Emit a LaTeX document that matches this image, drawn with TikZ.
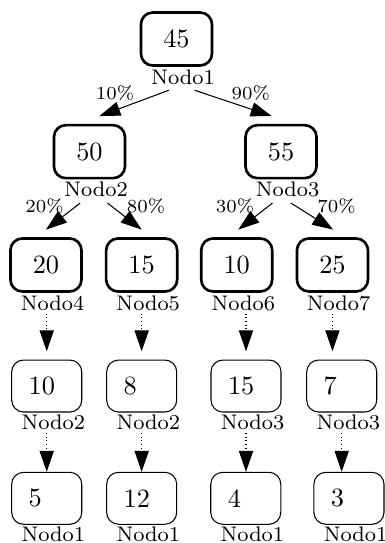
\documentclass[tikz,border=0pt]{standalone}
\usetikzlibrary{arrows.meta}

\begin{document}
\begin{tikzpicture}[
  upper/.style={draw,rounded corners=4.5pt,line width=1pt,
    minimum width=0.947cm,minimum height=0.707cm,inner sep=0pt,align=center},
  lower/.style={draw,rounded corners=4.5pt,line width=0.4pt,
    text width=0.48cm,inner xsep=0.227cm,minimum height=0.693cm,
    inner ysep=0pt,align=left},
  tag/.style={font=\footnotesize,inner sep=1pt},
  pct/.style={font=\scriptsize,inner sep=1pt},
  flow/.style={-{Triangle[length=2.8mm,width=1.9mm]},line width=0.4pt},
  trail/.style={flow,densely dotted}
]
\useasboundingbox (0,0) rectangle (5.133,-7.24);
% first tree
\node[upper] (n1) at (2.353,-0.520) {45};
\node[upper] (n2) at (1.193,-2.022) {50};
\node[upper] (n3) at (3.747,-2.022) {55};
\node[upper] (n4) at (0.613,-3.533) {20};
\node[upper] (n5) at (1.889,-3.533) {15};
\node[upper] (n6) at (3.156,-3.533) {10};
\node[upper] (n7) at (4.433,-3.533) {25};
\node[tag] (t1) at ([shift={(0.087,-0.135)}]n1.south) {Nodo1};
\node[tag] (t2) at ([shift={(0.087,-0.135)}]n2.south) {Nodo2};
\node[tag] (t3) at ([shift={(0.087,-0.135)}]n3.south) {Nodo3};
\node[tag] (t4) at ([shift={(0.087,-0.135)}]n4.south) {Nodo4};
\node[tag] (t5) at ([shift={(0.087,-0.135)}]n5.south) {Nodo5};
\node[tag] (t6) at ([shift={(0.087,-0.135)}]n6.south) {Nodo6};
\node[tag] (t7) at ([shift={(0.080,-0.135)}]n7.south) {Nodo7};
% second row
\node[lower] (m4) at (0.623,-5.147) {10};
\node[lower] (m5) at (1.889,-5.147) {8};
\node[lower] (m6) at (3.280,-5.147) {15};
\node[lower] (m7) at (4.556,-5.147) {7};
\node[tag] (u4) at ([shift={(0.088,-0.130)}]m4.south) {Nodo2};
\node[tag] (u5) at ([shift={(0.088,-0.130)}]m5.south) {Nodo2};
\node[tag] (u6) at ([shift={(0.088,-0.130)}]m6.south) {Nodo3};
\node[tag] (u7) at ([shift={(0.088,-0.130)}]m7.south) {Nodo3};
% third row
\node[lower] (p4) at (0.623,-6.644) {5};
\node[lower] (p5) at (1.889,-6.644) {12};
\node[lower] (p6) at (3.277,-6.644) {4};
\node[lower] (p7) at (4.653,-6.644) {3};
\node[tag] (v4) at ([shift={(0.088,-0.125)}]p4.south) {Nodo1};
\node[tag] (v5) at ([shift={(0.088,-0.125)}]p5.south) {Nodo1};
\node[tag] (v6) at ([shift={(0.088,-0.125)}]p6.south) {Nodo1};
\node[tag] (v7) at ([shift={(0.088,-0.125)}]p7.south) {Nodo1};
% branches
\draw[flow] ([shift={(-0.187,-0.177)}]t1.center) --
  node[pct,pos=0.1,left=0.33cm] {10\%} ([shift={(0.131,0.103)}]n2.north);
\draw[flow] ([shift={(0.155,-0.177)}]t1.center) --
  node[pct,pos=0.1,right=0.35cm] {90\%} ([shift={(-0.124,0.103)}]n3.north);
\draw[flow] ([shift={(-0.211,-0.179)}]t2.center) --
  node[pct,pos=0.1,left=0.133cm] {20\%} ([yshift=0.1cm]n4.north);
\draw[flow] ([shift={(0.153,-0.179)}]t2.center) --
  node[pct,pos=0.1,right=0.17cm] {80\%} ([yshift=0.1cm]n5.north);
\draw[flow] ([shift={(-0.2,-0.179)}]t3.center) --
  node[pct,pos=0.1,left=0.157cm] {30\%} ([shift={(0.021,0.1)}]n6.north);
\draw[flow] ([shift={(0.044,-0.179)}]t3.center) --
  node[pct,pos=0.1,right=0.255cm] {70\%} ([shift={(0.01,0.1)}]n7.north);
% dotted steps
\draw[trail,shorten >=0.11cm] (t4.south -| m4.north) -- (m4.north);
\draw[trail,shorten >=0.11cm] (t5.south -| m5.north) -- (m5.north);
\draw[trail,shorten >=0.11cm] (t6.south -| m6.north) -- (m6.north);
\draw[trail,shorten >=0.11cm] (t7.south -| n7.south) -- (n7.south |- m7.north);
\draw[trail] (u4.south -| m4.south) -- (m4.south |- p4.north);
\draw[trail] (u5.south -| m5.south) -- (m5.south |- p5.north);
\draw[trail] (u6.south -| m6.south) -- (m6.south |- p6.north);
\draw[trail] (u7.south -| m7.south) -- (m7.south |- p7.north);
\end{tikzpicture}
\end{document}
